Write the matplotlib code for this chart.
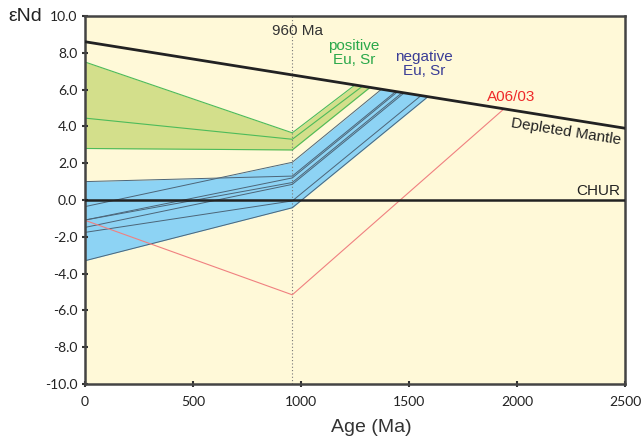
import matplotlib
matplotlib.use("Agg")
import matplotlib.pyplot as plt
import numpy as np

# depleted mantle evolution line (age, eNd)
dm_age = [0, 2500]
dm_end = [8.6, 3.9]

# time of the event
t_event = 960

# positive Eu, Sr samples: eNd today, eNd at 960 Ma, age where they reach DM
green_e0 = [7.5, 4.45, 2.8]
green_e960 = [3.65, 3.3, 2.72]
green_tdm = [1250, 1285, 1320]

# negative Eu, Sr samples
blue_e0 = [1.0, -0.36, -1.09, -1.09, -1.49, -1.76, -3.3]
blue_e960 = [1.3, 2.05, 1.2, 0.95, 0.85, -0.05, -0.42]
blue_tdm = [1439, 1373, 1447, 1469, 1478, 1556, 1588]

# sample A06/03
red_e0 = -1.1
red_e960 = -5.15
red_tdm = 1940

xticks = [0, 500, 1000, 1500, 2000, 2500]
yticks = np.arange(-10, 10.1, 2)


def dm(t):
    return np.interp(t, dm_age, dm_end)


def sample_line(e0, e960, tdm):
    return [0, t_event, tdm], [e0, e960, float(dm(tdm))]


def envelope(e0s, e960s, tdms, x):
    ys = []
    for e0, e9, td in zip(e0s, e960s, tdms):
        xp, fp = sample_line(e0, e9, td)
        y = np.interp(x, xp, fp)
        y = np.where(x > td, dm(x), y)
        ys.append(y)
    ys = np.array(ys)
    upper = np.minimum(ys.max(axis=0), dm(x))
    lower = ys.min(axis=0)
    return lower, upper


bg = "#fff9d8"
green_fill = "#d3df8b"
green_line = "#4dbb5a"
blue_fill = "#8dd3f4"
blue_line = "#4c6578"

fig = plt.figure(figsize=(6.43, 4.43), dpi=100)
ax = fig.add_axes([0.132, 0.133, 0.840, 0.831])
ax.set_facecolor(bg)

x = np.linspace(0, 1700, 3401)

lo, up = envelope(green_e0, green_e960, green_tdm, x)
ax.fill_between(x, lo, up, where=up > lo, color=green_fill, lw=0, zorder=1)
for e0, e9, td in zip(green_e0, green_e960, green_tdm):
    xp, fp = sample_line(e0, e9, td)
    ax.plot(xp, fp, color=green_line, lw=0.8, zorder=2)

lo, up = envelope(blue_e0, blue_e960, blue_tdm, x)
ax.fill_between(x, lo, up, where=up > lo, color=blue_fill, lw=0, zorder=1)
for e0, e9, td in zip(blue_e0, blue_e960, blue_tdm):
    xp, fp = sample_line(e0, e9, td)
    ax.plot(xp, fp, color=blue_line, lw=0.7, zorder=2)

xp, fp = sample_line(red_e0, red_e960, red_tdm)
ax.plot(xp, fp, color="#f08080", lw=0.8, zorder=2)

ax.axvline(t_event, color="#777777", lw=0.8, ls=(0, (1, 2)), zorder=1.5)
ax.axhline(0, color="#222222", lw=1.8, zorder=3)
ax.plot(dm_age, dm_end, color="#222222", lw=2, zorder=3)

ax.set_xlim(0, 2500)
ax.set_ylim(-10, 10)
ax.set_xticks(xticks)
ax.set_yticks(yticks)
ax.set_yticklabels([f"{v:.1f}" for v in yticks])
ax.tick_params(direction="inout", length=5, width=1.5, color="#333333",
               labelsize=10, pad=3)
ax.tick_params(axis="x", pad=6)
for lab in ax.get_xticklabels() + ax.get_yticklabels():
    lab.set_family("Lato")
    lab.set_color("#222222")
for s in ax.spines.values():
    s.set_linewidth(1.8)
    s.set_color("#444444")

fig.text(371 / 643, 1 - 428 / 443, "Age (Ma)", fontsize=14,
         family="Liberation Sans", color="#333333", ha="center", va="center")
fig.text(0.04, 0.962, "εNd", fontsize=14, family="Liberation Sans",
         color="#222222", ha="center", va="center")

ax.text(985, 9.2, "960 Ma", fontsize=11, family="Liberation Sans",
        color="#333333", ha="center", va="center")
ax.text(1245, 8.0, "positive\nEu, Sr", fontsize=11, family="Liberation Sans",
        color="#2aa84a", ha="center", va="center", linespacing=1.0)
ax.text(1570, 7.4, "negative\nEu, Sr", fontsize=11, family="Liberation Sans",
        color="#3a3d96", ha="center", va="center", linespacing=1.0)
ax.text(1975, 5.6, "A06/03", fontsize=11, family="Liberation Sans",
        color="#ee2a2a", ha="center", va="center")
ax.text(2225, 3.7, "Depleted Mantle", fontsize=11, family="Liberation Sans",
        color="#222222", ha="center", va="center", rotation=-9)
ax.text(2480, 0.5, "CHUR", fontsize=11, family="Liberation Sans",
        color="#222222", ha="right", va="center")

fig.savefig("out.png", dpi=100)
